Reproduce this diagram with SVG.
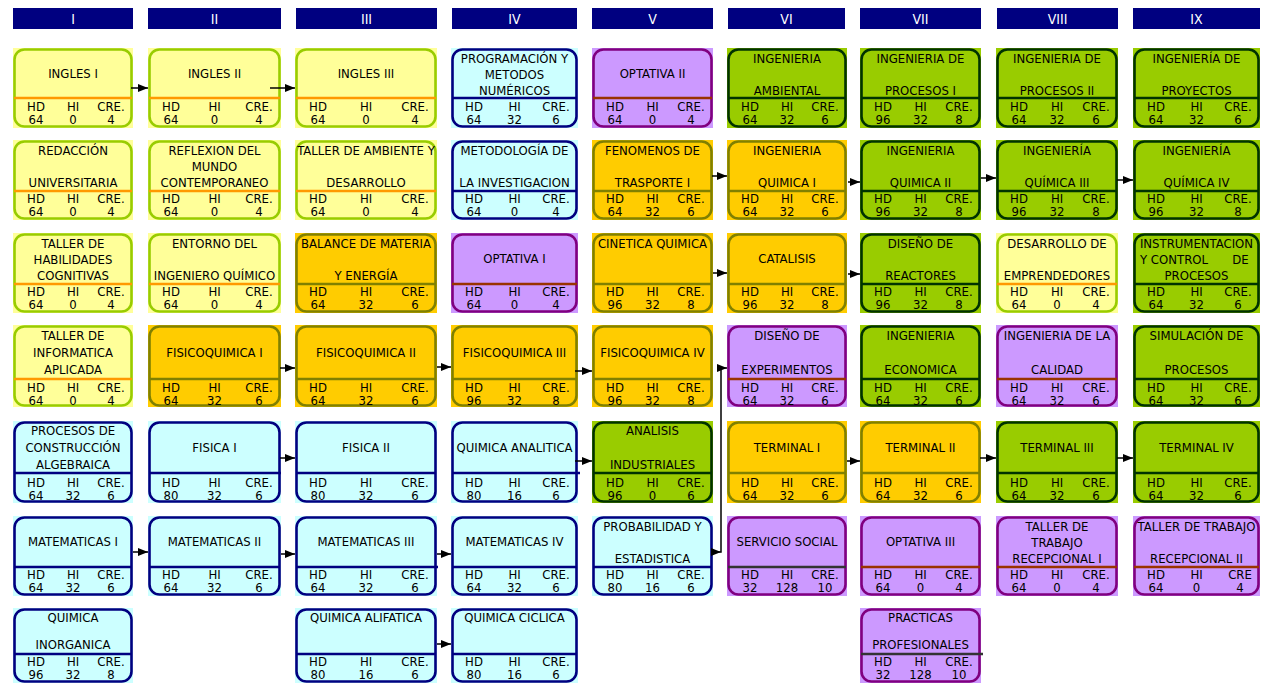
<svg xmlns="http://www.w3.org/2000/svg" width="1270" height="683" viewBox="0 0 1270 683">
<style>
text{font-family:"DejaVu Sans Condensed","DejaVu Sans",sans-serif;font-size:13px;fill:#000;text-anchor:middle}
.bx{stroke-width:2.6}
.dv{stroke-width:2.6}
.Y .bg,.Y .bx{fill:#FFFF99}.Y .bx{stroke:#99CC00}.Y .dv{stroke:#FF9900}
.C .bg,.C .bx{fill:#CCFFFF}.C .bx{stroke:#000080}.C .dv{stroke:#000080}
.P .bg,.P .bx{fill:#CC99FF}.P .bx{stroke:#800080}.P .dv{stroke:#993300}
.P .dv.k{stroke:#333333}
.O .bg,.O .bx{fill:#FFCC00}.O .bx{stroke:#808000}.O .dv{stroke:#808000}
.G .bg,.G .bx{fill:#99CC00}.G .bx{stroke:#003300}.G .dv{stroke:#003300}
.hd rect{fill:#000080}.hd text{fill:#fff;font-size:14px}
.cn path{fill:none;stroke:#000;stroke-width:1.5;marker-end:url(#ah)}
.cn path.st{marker-start:url(#as)}
</style>
<defs>
<marker id="ah" markerUnits="userSpaceOnUse" markerWidth="10" markerHeight="8" refX="10" refY="4" orient="auto"><path d="M0,0L10,4L0,8z" fill="#000"/></marker>
<marker id="as" markerUnits="userSpaceOnUse" markerWidth="10" markerHeight="8" refX="0" refY="4" orient="auto"><path d="M0,0L10,4L0,8z" fill="#000"/></marker>
</defs>
<g id="headers" class="hd">
<rect x="13" y="8" width="120" height="21"/><text x="73" y="24">I</text>
<rect x="148" y="8" width="133" height="21"/><text x="214.5" y="24">II</text>
<rect x="296" y="8" width="141" height="21"/><text x="366.5" y="24">III</text>
<rect x="452" y="8" width="125" height="21"/><text x="514.5" y="24">IV</text>
<rect x="592" y="8" width="121" height="21"/><text x="652.5" y="24">V</text>
<rect x="728" y="8" width="117" height="21"/><text x="786.5" y="24">VI</text>
<rect x="860" y="8" width="121" height="21"/><text x="920.5" y="24">VII</text>
<rect x="997" y="8" width="121" height="21"/><text x="1057.5" y="24">VIII</text>
<rect x="1133" y="8" width="127" height="21"/><text x="1196.5" y="24">IX</text>
</g>

<!-- ROW 1 -->
<g id="ingles-i" class="Y" transform="translate(13,48)"><rect class="bg" width="120" height="80"/><rect class="bx" x="1.5" y="1.5" width="117" height="77" rx="10"/><line class="dv" x1="1" y1="50" x2="119" y2="50"/><text x="60" y="30">INGLES I</text><text><tspan x="23" y="63">HD</tspan><tspan x="60" y="63">HI</tspan><tspan x="98" y="63">CRE.</tspan><tspan x="23" y="76">64</tspan><tspan x="60" y="76">0</tspan><tspan x="98" y="76">4</tspan></text></g>
<g id="ingles-ii" class="Y" transform="translate(148,48)"><rect class="bg" width="133" height="80"/><rect class="bx" x="1.5" y="1.5" width="130" height="77" rx="10"/><line class="dv" x1="1" y1="50" x2="132" y2="50"/><text x="66.5" y="30">INGLES II</text><text><tspan x="23" y="63">HD</tspan><tspan x="66.5" y="63">HI</tspan><tspan x="111" y="63">CRE.</tspan><tspan x="23" y="76">64</tspan><tspan x="66.5" y="76">0</tspan><tspan x="111" y="76">4</tspan></text></g>
<g id="ingles-iii" class="Y" transform="translate(295,48)"><rect class="bg" width="142" height="80"/><rect class="bx" x="1.5" y="1.5" width="139" height="77" rx="10"/><line class="dv" x1="1" y1="50" x2="141" y2="50"/><text x="71" y="30">INGLES III</text><text><tspan x="23" y="63">HD</tspan><tspan x="71" y="63">HI</tspan><tspan x="120" y="63">CRE.</tspan><tspan x="23" y="76">64</tspan><tspan x="71" y="76">0</tspan><tspan x="120" y="76">4</tspan></text></g>
<g id="programacion" class="C" transform="translate(451,48)"><rect class="bg" width="127" height="80"/><rect class="bx" x="1.5" y="1.5" width="124" height="77" rx="10"/><line class="dv" x1="1" y1="50" x2="126" y2="50"/><text x="63.5" y="14.5">PROGRAMACIÓN Y</text><text x="63.5" y="30.5">METODOS</text><text x="63.5" y="46.5">NUMÉRICOS</text><text><tspan x="23" y="63">HD</tspan><tspan x="63.5" y="63">HI</tspan><tspan x="105" y="63">CRE.</tspan><tspan x="23" y="76">64</tspan><tspan x="63.5" y="76">32</tspan><tspan x="105" y="76">6</tspan></text></g>
<g id="optativa-ii" class="P" transform="translate(592,48)"><rect class="bg" width="121" height="80"/><rect class="bx" x="1.5" y="1.5" width="118" height="77" rx="10"/><line class="dv" x1="1" y1="50" x2="120" y2="50"/><text x="60.5" y="30">OPTATIVA II</text><text><tspan x="23" y="63">HD</tspan><tspan x="60.5" y="63">HI</tspan><tspan x="99" y="63">CRE.</tspan><tspan x="23" y="76">64</tspan><tspan x="60.5" y="76">0</tspan><tspan x="99" y="76">4</tspan></text></g>
<g id="ing-ambiental" class="G" transform="translate(727,48)"><rect class="bg" width="120" height="80"/><rect class="bx" x="1.5" y="1.5" width="117" height="77" rx="10"/><line class="dv" x1="1" y1="50" x2="119" y2="50"/><text x="60" y="14.5">INGENIERIA</text><text x="60" y="46.5">AMBIENTAL</text><text><tspan x="23" y="63">HD</tspan><tspan x="60" y="63">HI</tspan><tspan x="98" y="63">CRE.</tspan><tspan x="23" y="76">64</tspan><tspan x="60" y="76">32</tspan><tspan x="98" y="76">6</tspan></text></g>
<g id="ing-procesos-i" class="G" transform="translate(860,48)"><rect class="bg" width="121" height="80"/><rect class="bx" x="1.5" y="1.5" width="118" height="77" rx="10"/><line class="dv" x1="1" y1="50" x2="120" y2="50"/><text x="60.5" y="14.5">INGENIERIA DE</text><text x="60.5" y="46.5">PROCESOS I</text><text><tspan x="23" y="63">HD</tspan><tspan x="60.5" y="63">HI</tspan><tspan x="99" y="63">CRE.</tspan><tspan x="23" y="76">96</tspan><tspan x="60.5" y="76">32</tspan><tspan x="99" y="76">8</tspan></text></g>
<g id="ing-procesos-ii" class="G" transform="translate(996,48)"><rect class="bg" width="122" height="80"/><rect class="bx" x="1.5" y="1.5" width="119" height="77" rx="10"/><line class="dv" x1="1" y1="50" x2="121" y2="50"/><text x="61" y="14.5">INGENIERIA DE</text><text x="61" y="46.5">PROCESOS II</text><text><tspan x="23" y="63">HD</tspan><tspan x="61" y="63">HI</tspan><tspan x="100" y="63">CRE.</tspan><tspan x="23" y="76">64</tspan><tspan x="61" y="76">32</tspan><tspan x="100" y="76">6</tspan></text></g>
<g id="ing-proyectos" class="G" transform="translate(1133,48)"><rect class="bg" width="127" height="80"/><rect class="bx" x="1.5" y="1.5" width="124" height="77" rx="10"/><line class="dv" x1="1" y1="50" x2="126" y2="50"/><text x="63.5" y="14.5">INGENIERÍA DE</text><text x="63.5" y="46.5">PROYECTOS</text><text><tspan x="23" y="63">HD</tspan><tspan x="63.5" y="63">HI</tspan><tspan x="105" y="63">CRE.</tspan><tspan x="23" y="76">64</tspan><tspan x="63.5" y="76">32</tspan><tspan x="105" y="76">6</tspan></text></g>

<!-- ROW 2 -->
<g id="redaccion" class="Y" transform="translate(13,140)"><rect class="bg" width="120" height="80"/><rect class="bx" x="1.5" y="1.5" width="117" height="77" rx="10"/><line class="dv" x1="1" y1="51" x2="119" y2="51"/><text x="60" y="14.5">REDACCIÓN</text><text x="60" y="46.5">UNIVERSITARIA</text><text><tspan x="23" y="63">HD</tspan><tspan x="60" y="63">HI</tspan><tspan x="98" y="63">CRE.</tspan><tspan x="23" y="76">64</tspan><tspan x="60" y="76">0</tspan><tspan x="98" y="76">4</tspan></text></g>
<g id="reflexion" class="Y" transform="translate(148,140)"><rect class="bg" width="133" height="80"/><rect class="bx" x="1.5" y="1.5" width="130" height="77" rx="10"/><line class="dv" x1="1" y1="51" x2="132" y2="51"/><text x="66.5" y="14.5">REFLEXION DEL</text><text x="66.5" y="30.5">MUNDO</text><text x="66.5" y="46.5">CONTEMPORANEO</text><text><tspan x="23" y="63">HD</tspan><tspan x="66.5" y="63">HI</tspan><tspan x="111" y="63">CRE.</tspan><tspan x="23" y="76">64</tspan><tspan x="66.5" y="76">0</tspan><tspan x="111" y="76">4</tspan></text></g>
<g id="taller-ambiente" class="Y" transform="translate(295,140)"><rect class="bg" width="142" height="80"/><rect class="bx" x="1.5" y="1.5" width="139" height="77" rx="10"/><line class="dv" x1="1" y1="51" x2="141" y2="51"/><text x="71" y="14.5">TALLER DE AMBIENTE Y</text><text x="71" y="46.5">DESARROLLO</text><text><tspan x="23" y="63">HD</tspan><tspan x="71" y="63">HI</tspan><tspan x="120" y="63">CRE.</tspan><tspan x="23" y="76">64</tspan><tspan x="71" y="76">0</tspan><tspan x="120" y="76">4</tspan></text></g>
<g id="metodologia" class="C" transform="translate(451,140)"><rect class="bg" width="127" height="80"/><rect class="bx" x="1.5" y="1.5" width="124" height="77" rx="10"/><line class="dv" x1="1" y1="51" x2="126" y2="51"/><text x="63.5" y="14.5">METODOLOGÍA DE</text><text x="63.5" y="46.5">LA INVESTIGACION</text><text><tspan x="23" y="63">HD</tspan><tspan x="63.5" y="63">HI</tspan><tspan x="105" y="63">CRE.</tspan><tspan x="23" y="76">64</tspan><tspan x="63.5" y="76">0</tspan><tspan x="105" y="76">4</tspan></text></g>
<g id="fenomenos" class="O" transform="translate(592,140)"><rect class="bg" width="121" height="80"/><rect class="bx" x="1.5" y="1.5" width="118" height="77" rx="10"/><line class="dv" x1="1" y1="51" x2="120" y2="51"/><text x="60.5" y="14.5">FENOMENOS DE</text><text x="60.5" y="46.5">TRASPORTE I</text><text><tspan x="23" y="63">HD</tspan><tspan x="60.5" y="63">HI</tspan><tspan x="99" y="63">CRE.</tspan><tspan x="23" y="76">64</tspan><tspan x="60.5" y="76">32</tspan><tspan x="99" y="76">6</tspan></text></g>
<g id="ing-quimica-i" class="O" transform="translate(727,140)"><rect class="bg" width="120" height="80"/><rect class="bx" x="1.5" y="1.5" width="117" height="77" rx="10"/><line class="dv" x1="1" y1="51" x2="119" y2="51"/><text x="60" y="14.5">INGENIERIA</text><text x="60" y="46.5">QUIMICA I</text><text><tspan x="23" y="63">HD</tspan><tspan x="60" y="63">HI</tspan><tspan x="98" y="63">CRE.</tspan><tspan x="23" y="76">64</tspan><tspan x="60" y="76">32</tspan><tspan x="98" y="76">6</tspan></text></g>
<g id="ing-quimica-ii" class="G" transform="translate(860,140)"><rect class="bg" width="121" height="80"/><rect class="bx" x="1.5" y="1.5" width="118" height="77" rx="10"/><line class="dv" x1="1" y1="51" x2="120" y2="51"/><text x="60.5" y="14.5">INGENIERIA</text><text x="60.5" y="46.5">QUIMICA II</text><text><tspan x="23" y="63">HD</tspan><tspan x="60.5" y="63">HI</tspan><tspan x="99" y="63">CRE.</tspan><tspan x="23" y="76">96</tspan><tspan x="60.5" y="76">32</tspan><tspan x="99" y="76">8</tspan></text></g>
<g id="ing-quimica-iii" class="G" transform="translate(996,140)"><rect class="bg" width="122" height="80"/><rect class="bx" x="1.5" y="1.5" width="119" height="77" rx="10"/><line class="dv" x1="1" y1="51" x2="121" y2="51"/><text x="61" y="14.5">INGENIERÍA</text><text x="61" y="46.5">QUÍMICA III</text><text><tspan x="23" y="63">HD</tspan><tspan x="61" y="63">HI</tspan><tspan x="100" y="63">CRE.</tspan><tspan x="23" y="76">96</tspan><tspan x="61" y="76">32</tspan><tspan x="100" y="76">8</tspan></text></g>
<g id="ing-quimica-iv" class="G" transform="translate(1133,140)"><rect class="bg" width="127" height="80"/><rect class="bx" x="1.5" y="1.5" width="124" height="77" rx="10"/><line class="dv" x1="1" y1="51" x2="126" y2="51"/><text x="63.5" y="14.5">INGENIERÍA</text><text x="63.5" y="46.5">QUÍMICA IV</text><text><tspan x="23" y="63">HD</tspan><tspan x="63.5" y="63">HI</tspan><tspan x="105" y="63">CRE.</tspan><tspan x="23" y="76">96</tspan><tspan x="63.5" y="76">32</tspan><tspan x="105" y="76">8</tspan></text></g>

<!-- ROW 3 -->
<g id="taller-habilidades" class="Y" transform="translate(13,233)"><rect class="bg" width="120" height="80"/><rect class="bx" x="1.5" y="1.5" width="117" height="77" rx="10"/><line class="dv" x1="1" y1="51" x2="119" y2="51"/><text x="60" y="14.5">TALLER DE</text><text x="60" y="30.5">HABILIDADES</text><text x="60" y="46.5">COGNITIVAS</text><text><tspan x="23" y="63">HD</tspan><tspan x="60" y="63">HI</tspan><tspan x="98" y="63">CRE.</tspan><tspan x="23" y="76">64</tspan><tspan x="60" y="76">0</tspan><tspan x="98" y="76">4</tspan></text></g>
<g id="entorno" class="Y" transform="translate(148,233)"><rect class="bg" width="133" height="80"/><rect class="bx" x="1.5" y="1.5" width="130" height="77" rx="10"/><line class="dv" x1="1" y1="51" x2="132" y2="51"/><text x="66.5" y="14.5">ENTORNO DEL</text><text x="66.5" y="46.5">INGENIERO QUÍMICO</text><text><tspan x="23" y="63">HD</tspan><tspan x="66.5" y="63">HI</tspan><tspan x="111" y="63">CRE.</tspan><tspan x="23" y="76">64</tspan><tspan x="66.5" y="76">0</tspan><tspan x="111" y="76">4</tspan></text></g>
<g id="balance" class="O" transform="translate(295,233)"><rect class="bg" width="142" height="80"/><rect class="bx" x="1.5" y="1.5" width="139" height="77" rx="10"/><line class="dv" x1="1" y1="51" x2="141" y2="51"/><text x="71" y="14.5">BALANCE DE MATERIA</text><text x="71" y="46.5">Y ENERGÍA</text><text><tspan x="23" y="63">HD</tspan><tspan x="71" y="63">HI</tspan><tspan x="120" y="63">CRE.</tspan><tspan x="23" y="76">64</tspan><tspan x="71" y="76">32</tspan><tspan x="120" y="76">6</tspan></text></g>
<g id="optativa-i" class="P" transform="translate(451,233)"><rect class="bg" width="127" height="80"/><rect class="bx" x="1.5" y="1.5" width="124" height="77" rx="10"/><line class="dv" x1="1" y1="51" x2="126" y2="51"/><text x="63.5" y="30">OPTATIVA I</text><text><tspan x="23" y="63">HD</tspan><tspan x="63.5" y="63">HI</tspan><tspan x="105" y="63">CRE.</tspan><tspan x="23" y="76">64</tspan><tspan x="63.5" y="76">0</tspan><tspan x="105" y="76">4</tspan></text></g>
<g id="cinetica" class="O" transform="translate(592,233)"><rect class="bg" width="121" height="80"/><rect class="bx" x="1.5" y="1.5" width="118" height="77" rx="10"/><line class="dv" x1="1" y1="51" x2="120" y2="51"/><text x="60.5" y="14.5">CINETICA QUIMICA</text><text><tspan x="23" y="63">HD</tspan><tspan x="60.5" y="63">HI</tspan><tspan x="99" y="63">CRE.</tspan><tspan x="23" y="76">96</tspan><tspan x="60.5" y="76">32</tspan><tspan x="99" y="76">8</tspan></text></g>
<g id="catalisis" class="O" transform="translate(727,233)"><rect class="bg" width="120" height="80"/><rect class="bx" x="1.5" y="1.5" width="117" height="77" rx="10"/><line class="dv" x1="1" y1="51" x2="119" y2="51"/><text x="60" y="30">CATALISIS</text><text><tspan x="23" y="63">HD</tspan><tspan x="60" y="63">HI</tspan><tspan x="98" y="63">CRE.</tspan><tspan x="23" y="76">96</tspan><tspan x="60" y="76">32</tspan><tspan x="98" y="76">8</tspan></text></g>
<g id="diseno-reactores" class="G" transform="translate(860,233)"><rect class="bg" width="121" height="80"/><rect class="bx" x="1.5" y="1.5" width="118" height="77" rx="10"/><line class="dv" x1="1" y1="51" x2="120" y2="51"/><text x="60.5" y="14.5">DISEÑO DE</text><text x="60.5" y="46.5">REACTORES</text><text><tspan x="23" y="63">HD</tspan><tspan x="60.5" y="63">HI</tspan><tspan x="99" y="63">CRE.</tspan><tspan x="23" y="76">96</tspan><tspan x="60.5" y="76">32</tspan><tspan x="99" y="76">8</tspan></text></g>
<g id="desarrollo-emprendedores" class="Y" transform="translate(996,233)"><rect class="bg" width="122" height="80"/><rect class="bx" x="1.5" y="1.5" width="119" height="77" rx="10"/><line class="dv" x1="1" y1="51" x2="121" y2="51"/><text x="61" y="14.5">DESARROLLO DE</text><text x="61" y="46.5">EMPRENDEDORES</text><text><tspan x="23" y="63">HD</tspan><tspan x="61" y="63">HI</tspan><tspan x="100" y="63">CRE.</tspan><tspan x="23" y="76">64</tspan><tspan x="61" y="76">0</tspan><tspan x="100" y="76">4</tspan></text></g>
<g id="instrumentacion" class="G" transform="translate(1133,233)"><rect class="bg" width="127" height="80"/><rect class="bx" x="1.5" y="1.5" width="124" height="77" rx="10"/><line class="dv" x1="1" y1="51" x2="126" y2="51"/><text x="63.5" y="14.5">INSTRUMENTACION</text><text x="41" y="30.5">Y CONTROL</text><text x="107.5" y="30.5">DE</text><text x="63.5" y="46.5">PROCESOS</text><text><tspan x="23" y="63">HD</tspan><tspan x="63.5" y="63">HI</tspan><tspan x="105" y="63">CRE.</tspan><tspan x="23" y="76">64</tspan><tspan x="63.5" y="76">32</tspan><tspan x="105" y="76">6</tspan></text></g>

<!-- ROW 4 -->
<g id="taller-informatica" class="Y" transform="translate(13,325)"><rect class="bg" width="120" height="82"/><rect class="bx" x="1.5" y="1.5" width="117" height="79" rx="10"/><line class="dv" x1="1" y1="54" x2="119" y2="54"/><text x="60" y="15">TALLER DE</text><text x="60" y="31.5">INFORMATICA</text><text x="60" y="48.5">APLICADA</text><text><tspan x="23" y="66.5">HD</tspan><tspan x="60" y="66.5">HI</tspan><tspan x="98" y="66.5">CRE.</tspan><tspan x="23" y="79.5">64</tspan><tspan x="60" y="79.5">0</tspan><tspan x="98" y="79.5">4</tspan></text></g>
<g id="fisicoquimica-i" class="O" transform="translate(148,325)"><rect class="bg" width="133" height="82"/><rect class="bx" x="1.5" y="1.5" width="130" height="79" rx="10"/><line class="dv" x1="1" y1="54" x2="132" y2="54"/><text x="66.5" y="32">FISICOQUIMICA I</text><text><tspan x="23" y="66.5">HD</tspan><tspan x="66.5" y="66.5">HI</tspan><tspan x="111" y="66.5">CRE.</tspan><tspan x="23" y="79.5">64</tspan><tspan x="66.5" y="79.5">32</tspan><tspan x="111" y="79.5">6</tspan></text></g>
<g id="fisicoquimica-ii" class="O" transform="translate(295,325)"><rect class="bg" width="142" height="82"/><rect class="bx" x="1.5" y="1.5" width="139" height="79" rx="10"/><line class="dv" x1="1" y1="54" x2="141" y2="54"/><text x="71" y="32">FISICOQUIMICA II</text><text><tspan x="23" y="66.5">HD</tspan><tspan x="71" y="66.5">HI</tspan><tspan x="120" y="66.5">CRE.</tspan><tspan x="23" y="79.5">64</tspan><tspan x="71" y="79.5">32</tspan><tspan x="120" y="79.5">6</tspan></text></g>
<g id="fisicoquimica-iii" class="O" transform="translate(451,325)"><rect class="bg" width="127" height="82"/><rect class="bx" x="1.5" y="1.5" width="124" height="79" rx="10"/><line class="dv" x1="1" y1="54" x2="126" y2="54"/><text x="63.5" y="32">FISICOQUIMICA III</text><text><tspan x="23" y="66.5">HD</tspan><tspan x="63.5" y="66.5">HI</tspan><tspan x="105" y="66.5">CRE.</tspan><tspan x="23" y="79.5">96</tspan><tspan x="63.5" y="79.5">32</tspan><tspan x="105" y="79.5">8</tspan></text></g>
<g id="fisicoquimica-iv" class="O" transform="translate(592,325)"><rect class="bg" width="121" height="82"/><rect class="bx" x="1.5" y="1.5" width="118" height="79" rx="10"/><line class="dv" x1="1" y1="54" x2="120" y2="54"/><text x="60.5" y="32">FISICOQUIMICA IV</text><text><tspan x="23" y="66.5">HD</tspan><tspan x="60.5" y="66.5">HI</tspan><tspan x="99" y="66.5">CRE.</tspan><tspan x="23" y="79.5">96</tspan><tspan x="60.5" y="79.5">32</tspan><tspan x="99" y="79.5">8</tspan></text></g>
<g id="diseno-experimentos" class="P" transform="translate(727,325)"><rect class="bg" width="120" height="82"/><rect class="bx" x="1.5" y="1.5" width="117" height="79" rx="10"/><line class="dv" x1="1" y1="54" x2="119" y2="54"/><text x="60" y="14.5">DISEÑO DE</text><text x="60" y="48.5">EXPERIMENTOS</text><text><tspan x="23" y="66.5">HD</tspan><tspan x="60" y="66.5">HI</tspan><tspan x="98" y="66.5">CRE.</tspan><tspan x="23" y="79.5">64</tspan><tspan x="60" y="79.5">32</tspan><tspan x="98" y="79.5">6</tspan></text></g>
<g id="ing-economica" class="G" transform="translate(860,325)"><rect class="bg" width="121" height="82"/><rect class="bx" x="1.5" y="1.5" width="118" height="79" rx="10"/><line class="dv" x1="1" y1="54" x2="120" y2="54"/><text x="60.5" y="14.5">INGENIERIA</text><text x="60.5" y="48.5">ECONOMICA</text><text><tspan x="23" y="66.5">HD</tspan><tspan x="60.5" y="66.5">HI</tspan><tspan x="99" y="66.5">CRE.</tspan><tspan x="23" y="79.5">64</tspan><tspan x="60.5" y="79.5">32</tspan><tspan x="99" y="79.5">6</tspan></text></g>
<g id="ing-calidad" class="P" transform="translate(996,325)"><rect class="bg" width="122" height="82"/><rect class="bx" x="1.5" y="1.5" width="119" height="79" rx="10"/><line class="dv" x1="1" y1="54" x2="121" y2="54"/><text x="61" y="14.5">INGENIERIA DE LA</text><text x="61" y="48.5">CALIDAD</text><text><tspan x="23" y="66.5">HD</tspan><tspan x="61" y="66.5">HI</tspan><tspan x="100" y="66.5">CRE.</tspan><tspan x="23" y="79.5">64</tspan><tspan x="61" y="79.5">32</tspan><tspan x="100" y="79.5">6</tspan></text></g>
<g id="simulacion" class="G" transform="translate(1133,325)"><rect class="bg" width="127" height="82"/><rect class="bx" x="1.5" y="1.5" width="124" height="79" rx="10"/><line class="dv" x1="1" y1="54" x2="126" y2="54"/><text x="63.5" y="14.5">SIMULACIÓN DE</text><text x="63.5" y="48.5">PROCESOS</text><text><tspan x="23" y="66.5">HD</tspan><tspan x="63.5" y="66.5">HI</tspan><tspan x="105" y="66.5">CRE.</tspan><tspan x="23" y="79.5">64</tspan><tspan x="63.5" y="79.5">32</tspan><tspan x="105" y="79.5">6</tspan></text></g>

<!-- ROW 5 -->
<g id="procesos-construccion" class="C" transform="translate(13,421)"><rect class="bg" width="120" height="82"/><rect class="bx" x="1.5" y="1.5" width="117" height="79" rx="10"/><line class="dv" x1="1" y1="52" x2="119" y2="52"/><text x="60" y="13.5">PROCESOS DE</text><text x="60" y="30.5">CONSTRUCCIÓN</text><text x="60" y="47.5">ALGEBRAICA</text><text><tspan x="23" y="66">HD</tspan><tspan x="60" y="66">HI</tspan><tspan x="98" y="66">CRE.</tspan><tspan x="23" y="79">64</tspan><tspan x="60" y="79">32</tspan><tspan x="98" y="79">6</tspan></text></g>
<g id="fisica-i" class="C" transform="translate(148,421)"><rect class="bg" width="133" height="82"/><rect class="bx" x="1.5" y="1.5" width="130" height="79" rx="10"/><line class="dv" x1="1" y1="52" x2="133" y2="52"/><text x="66.5" y="31">FISICA I</text><text><tspan x="23" y="66">HD</tspan><tspan x="66.5" y="66">HI</tspan><tspan x="111" y="66">CRE.</tspan><tspan x="23" y="79">80</tspan><tspan x="66.5" y="79">32</tspan><tspan x="111" y="79">6</tspan></text></g>
<g id="fisica-ii" class="C" transform="translate(295,421)"><rect class="bg" width="142" height="82"/><rect class="bx" x="1.5" y="1.5" width="139" height="79" rx="10"/><line class="dv" x1="1" y1="52" x2="141" y2="52"/><text x="71" y="31">FISICA II</text><text><tspan x="23" y="66">HD</tspan><tspan x="71" y="66">HI</tspan><tspan x="120" y="66">CRE.</tspan><tspan x="23" y="79">80</tspan><tspan x="71" y="79">32</tspan><tspan x="120" y="79">6</tspan></text></g>
<g id="quimica-analitica" class="C" transform="translate(451,421)"><rect class="bg" width="127" height="82"/><rect class="bx" x="1.5" y="1.5" width="124" height="79" rx="10"/><line class="dv" x1="1" y1="52" x2="129" y2="52"/><text x="63.5" y="31">QUIMICA ANALITICA</text><text><tspan x="23" y="66">HD</tspan><tspan x="63.5" y="66">HI</tspan><tspan x="105" y="66">CRE.</tspan><tspan x="23" y="79">80</tspan><tspan x="63.5" y="79">16</tspan><tspan x="105" y="79">6</tspan></text></g>
<g id="analisis-industriales" class="G" transform="translate(592,421)"><rect class="bg" width="121" height="82"/><rect class="bx" x="1.5" y="1.5" width="118" height="79" rx="10"/><line class="dv" x1="1" y1="52" x2="120" y2="52"/><text x="60.5" y="13.5">ANALISIS</text><text x="60.5" y="47.5">INDUSTRIALES</text><text><tspan x="23" y="66">HD</tspan><tspan x="60.5" y="66">HI</tspan><tspan x="99" y="66">CRE.</tspan><tspan x="23" y="79">96</tspan><tspan x="60.5" y="79">0</tspan><tspan x="99" y="79">6</tspan></text></g>
<g id="terminal-i" class="O" transform="translate(727,421)"><rect class="bg" width="120" height="82"/><rect class="bx" x="1.5" y="1.5" width="117" height="79" rx="10"/><line class="dv" x1="1" y1="52" x2="119" y2="52"/><text x="60" y="31">TERMINAL I</text><text><tspan x="23" y="66">HD</tspan><tspan x="60" y="66">HI</tspan><tspan x="98" y="66">CRE.</tspan><tspan x="23" y="79">64</tspan><tspan x="60" y="79">32</tspan><tspan x="98" y="79">6</tspan></text></g>
<g id="terminal-ii" class="O" transform="translate(860,421)"><rect class="bg" width="121" height="82"/><rect class="bx" x="1.5" y="1.5" width="118" height="79" rx="10"/><line class="dv" x1="1" y1="52" x2="120" y2="52"/><text x="60.5" y="31">TERMINAL II</text><text><tspan x="23" y="66">HD</tspan><tspan x="60.5" y="66">HI</tspan><tspan x="99" y="66">CRE.</tspan><tspan x="23" y="79">64</tspan><tspan x="60.5" y="79">32</tspan><tspan x="99" y="79">6</tspan></text></g>
<g id="terminal-iii" class="G" transform="translate(996,421)"><rect class="bg" width="122" height="82"/><rect class="bx" x="1.5" y="1.5" width="119" height="79" rx="10"/><line class="dv" x1="1" y1="52" x2="121" y2="52"/><text x="61" y="31">TERMINAL III</text><text><tspan x="23" y="66">HD</tspan><tspan x="61" y="66">HI</tspan><tspan x="100" y="66">CRE.</tspan><tspan x="23" y="79">64</tspan><tspan x="61" y="79">32</tspan><tspan x="100" y="79">6</tspan></text></g>
<g id="terminal-iv" class="G" transform="translate(1133,421)"><rect class="bg" width="127" height="82"/><rect class="bx" x="1.5" y="1.5" width="124" height="79" rx="10"/><line class="dv" x1="1" y1="52" x2="126" y2="52"/><text x="63.5" y="31">TERMINAL IV</text><text><tspan x="23" y="66">HD</tspan><tspan x="63.5" y="66">HI</tspan><tspan x="105" y="66">CRE.</tspan><tspan x="23" y="79">64</tspan><tspan x="63.5" y="79">32</tspan><tspan x="105" y="79">6</tspan></text></g>

<!-- ROW 6 -->
<g id="matematicas-i" class="C" transform="translate(13,516)"><rect class="bg" width="120" height="80"/><rect class="bx" x="1.5" y="1.5" width="117" height="77" rx="10"/><line class="dv" x1="1" y1="51" x2="119" y2="51"/><text x="60" y="30">MATEMATICAS I</text><text><tspan x="23" y="63">HD</tspan><tspan x="60" y="63">HI</tspan><tspan x="98" y="63">CRE.</tspan><tspan x="23" y="76">64</tspan><tspan x="60" y="76">32</tspan><tspan x="98" y="76">6</tspan></text></g>
<g id="matematicas-ii" class="C" transform="translate(148,516)"><rect class="bg" width="133" height="80"/><rect class="bx" x="1.5" y="1.5" width="130" height="77" rx="10"/><line class="dv" x1="1" y1="51" x2="132" y2="51"/><text x="66.5" y="30">MATEMATICAS II</text><text><tspan x="23" y="63">HD</tspan><tspan x="66.5" y="63">HI</tspan><tspan x="111" y="63">CRE.</tspan><tspan x="23" y="76">64</tspan><tspan x="66.5" y="76">32</tspan><tspan x="111" y="76">6</tspan></text></g>
<g id="matematicas-iii" class="C" transform="translate(295,516)"><rect class="bg" width="142" height="80"/><rect class="bx" x="1.5" y="1.5" width="139" height="77" rx="10"/><line class="dv" x1="1" y1="51" x2="143" y2="51"/><text x="71" y="30">MATEMATICAS III</text><text><tspan x="23" y="63">HD</tspan><tspan x="71" y="63">HI</tspan><tspan x="120" y="63">CRE.</tspan><tspan x="23" y="76">64</tspan><tspan x="71" y="76">32</tspan><tspan x="120" y="76">6</tspan></text></g>
<g id="matematicas-iv" class="C" transform="translate(451,516)"><rect class="bg" width="127" height="80"/><rect class="bx" x="1.5" y="1.5" width="124" height="77" rx="10"/><line class="dv" x1="1" y1="51" x2="126" y2="51"/><text x="63.5" y="30">MATEMATICAS IV</text><text><tspan x="23" y="63">HD</tspan><tspan x="63.5" y="63">HI</tspan><tspan x="105" y="63">CRE.</tspan><tspan x="23" y="76">64</tspan><tspan x="63.5" y="76">32</tspan><tspan x="105" y="76">6</tspan></text></g>
<g id="probabilidad" class="C" transform="translate(592,516)"><rect class="bg" width="121" height="80"/><rect class="bx" x="1.5" y="1.5" width="118" height="77" rx="10"/><line class="dv" x1="1" y1="51" x2="120" y2="51"/><text x="60.5" y="14.5">PROBABILIDAD Y</text><text x="60.5" y="46.5">ESTADISTICA</text><text><tspan x="23" y="63">HD</tspan><tspan x="60.5" y="63">HI</tspan><tspan x="99" y="63">CRE.</tspan><tspan x="23" y="76">80</tspan><tspan x="60.5" y="76">16</tspan><tspan x="99" y="76">6</tspan></text></g>
<g id="servicio-social" class="P" transform="translate(727,516)"><rect class="bg" width="120" height="80"/><rect class="bx" x="1.5" y="1.5" width="117" height="77" rx="10"/><line class="dv k" x1="1" y1="51" x2="119" y2="51"/><text x="60" y="30">SERVICIO SOCIAL</text><text><tspan x="23" y="63">HD</tspan><tspan x="60" y="63">HI</tspan><tspan x="98" y="63">CRE.</tspan><tspan x="23" y="76">32</tspan><tspan x="60" y="76">128</tspan><tspan x="98" y="76">10</tspan></text></g>
<g id="optativa-iii" class="P" transform="translate(860,516)"><rect class="bg" width="121" height="80"/><rect class="bx" x="1.5" y="1.5" width="118" height="77" rx="10"/><line class="dv" x1="1" y1="51" x2="120" y2="51"/><text x="60.5" y="30">OPTATIVA III</text><text><tspan x="23" y="63">HD</tspan><tspan x="60.5" y="63">HI</tspan><tspan x="99" y="63">CRE.</tspan><tspan x="23" y="76">64</tspan><tspan x="60.5" y="76">0</tspan><tspan x="99" y="76">4</tspan></text></g>
<g id="taller-recepcional-i" class="P" transform="translate(996,516)"><rect class="bg" width="122" height="80"/><rect class="bx" x="1.5" y="1.5" width="119" height="77" rx="10"/><line class="dv" x1="1" y1="51" x2="121" y2="51"/><text x="61" y="14.5">TALLER DE</text><text x="61" y="30.5">TRABAJO</text><text x="61" y="46.5">RECEPCIONAL I</text><text><tspan x="23" y="63">HD</tspan><tspan x="61" y="63">HI</tspan><tspan x="100" y="63">CRE.</tspan><tspan x="23" y="76">64</tspan><tspan x="61" y="76">0</tspan><tspan x="100" y="76">4</tspan></text></g>
<g id="taller-recepcional-ii" class="P" transform="translate(1133,516)"><rect class="bg" width="127" height="80"/><rect class="bx" x="1.5" y="1.5" width="124" height="77" rx="10"/><line class="dv" x1="1" y1="51" x2="126" y2="51"/><text x="63.5" y="14.5">TALLER DE TRABAJO</text><text x="63.5" y="46.5">RECEPCIONAL II</text><text><tspan x="23" y="63">HD</tspan><tspan x="63.5" y="63">HI</tspan><tspan x="107" y="63">CRE</tspan><tspan x="23" y="76">64</tspan><tspan x="63.5" y="76">0</tspan><tspan x="107" y="76">4</tspan></text></g>

<!-- ROW 7 -->
<g id="quimica-inorganica" class="C" transform="translate(13,608)"><rect class="bg" width="120" height="75"/><rect class="bx" x="1.5" y="1.5" width="117" height="72" rx="10"/><line class="dv" x1="1" y1="46" x2="119" y2="46"/><text x="60" y="13.5">QUIMICA</text><text x="60" y="40.5">INORGANICA</text><text><tspan x="23" y="57.5">HD</tspan><tspan x="60" y="57.5">HI</tspan><tspan x="98" y="57.5">CRE.</tspan><tspan x="23" y="70.5">96</tspan><tspan x="60" y="70.5">32</tspan><tspan x="98" y="70.5">8</tspan></text></g>
<g id="quimica-alifatica" class="C" transform="translate(295,608)"><rect class="bg" width="142" height="75"/><rect class="bx" x="1.5" y="1.5" width="139" height="72" rx="10"/><line class="dv" x1="1" y1="46" x2="141" y2="46"/><text x="71" y="13.5">QUIMICA ALIFATICA</text><text><tspan x="23" y="57.5">HD</tspan><tspan x="71" y="57.5">HI</tspan><tspan x="120" y="57.5">CRE.</tspan><tspan x="23" y="70.5">80</tspan><tspan x="71" y="70.5">16</tspan><tspan x="120" y="70.5">6</tspan></text></g>
<g id="quimica-ciclica" class="C" transform="translate(451,608)"><rect class="bg" width="127" height="75"/><rect class="bx" x="1.5" y="1.5" width="124" height="72" rx="10"/><line class="dv" x1="1" y1="46" x2="126" y2="46"/><text x="63.5" y="13.5">QUIMICA CICLICA</text><text><tspan x="23" y="57.5">HD</tspan><tspan x="63.5" y="57.5">HI</tspan><tspan x="105" y="57.5">CRE.</tspan><tspan x="23" y="70.5">80</tspan><tspan x="63.5" y="70.5">16</tspan><tspan x="105" y="70.5">6</tspan></text></g>
<g id="practicas-profesionales" class="P" transform="translate(860,608)"><rect class="bg" width="121" height="75"/><rect class="bx" x="1.5" y="1.5" width="118" height="72" rx="10"/><line class="dv k" x1="1" y1="46" x2="123" y2="46"/><text x="60.5" y="13.5">PRACTICAS</text><text x="60.5" y="40.5">PROFESIONALES</text><text><tspan x="23" y="57.5">HD</tspan><tspan x="60.5" y="57.5">HI</tspan><tspan x="99" y="57.5">CRE.</tspan><tspan x="23" y="70.5">32</tspan><tspan x="60.5" y="70.5">128</tspan><tspan x="99" y="70.5">10</tspan></text></g>

<g id="connectors" class="cn">
<path d="M131,88H148"/>
<path d="M270,88H295"/>
<path d="M712,176H727"/>
<path d="M848,182H860"/>
<path d="M981,178H996"/>
<path d="M1117,180H1133"/>
<path d="M713,273H727"/>
<path d="M848,274H860"/>
<path d="M280,368H295"/>
<path d="M437,367H451"/>
<path d="M575,371H592"/>
<path d="M280,458H295"/>
<path d="M575,461H592"/>
<path d="M847,461H860"/>
<path d="M980,458H996"/>
<path d="M1117,458H1133"/>
<path d="M133,552H148"/>
<path d="M281,554H295"/>
<path d="M437,554H451"/>
<path d="M437,644H451"/>
<path class="st" d="M711,552H721V368H727"/>
</g>
</svg>
